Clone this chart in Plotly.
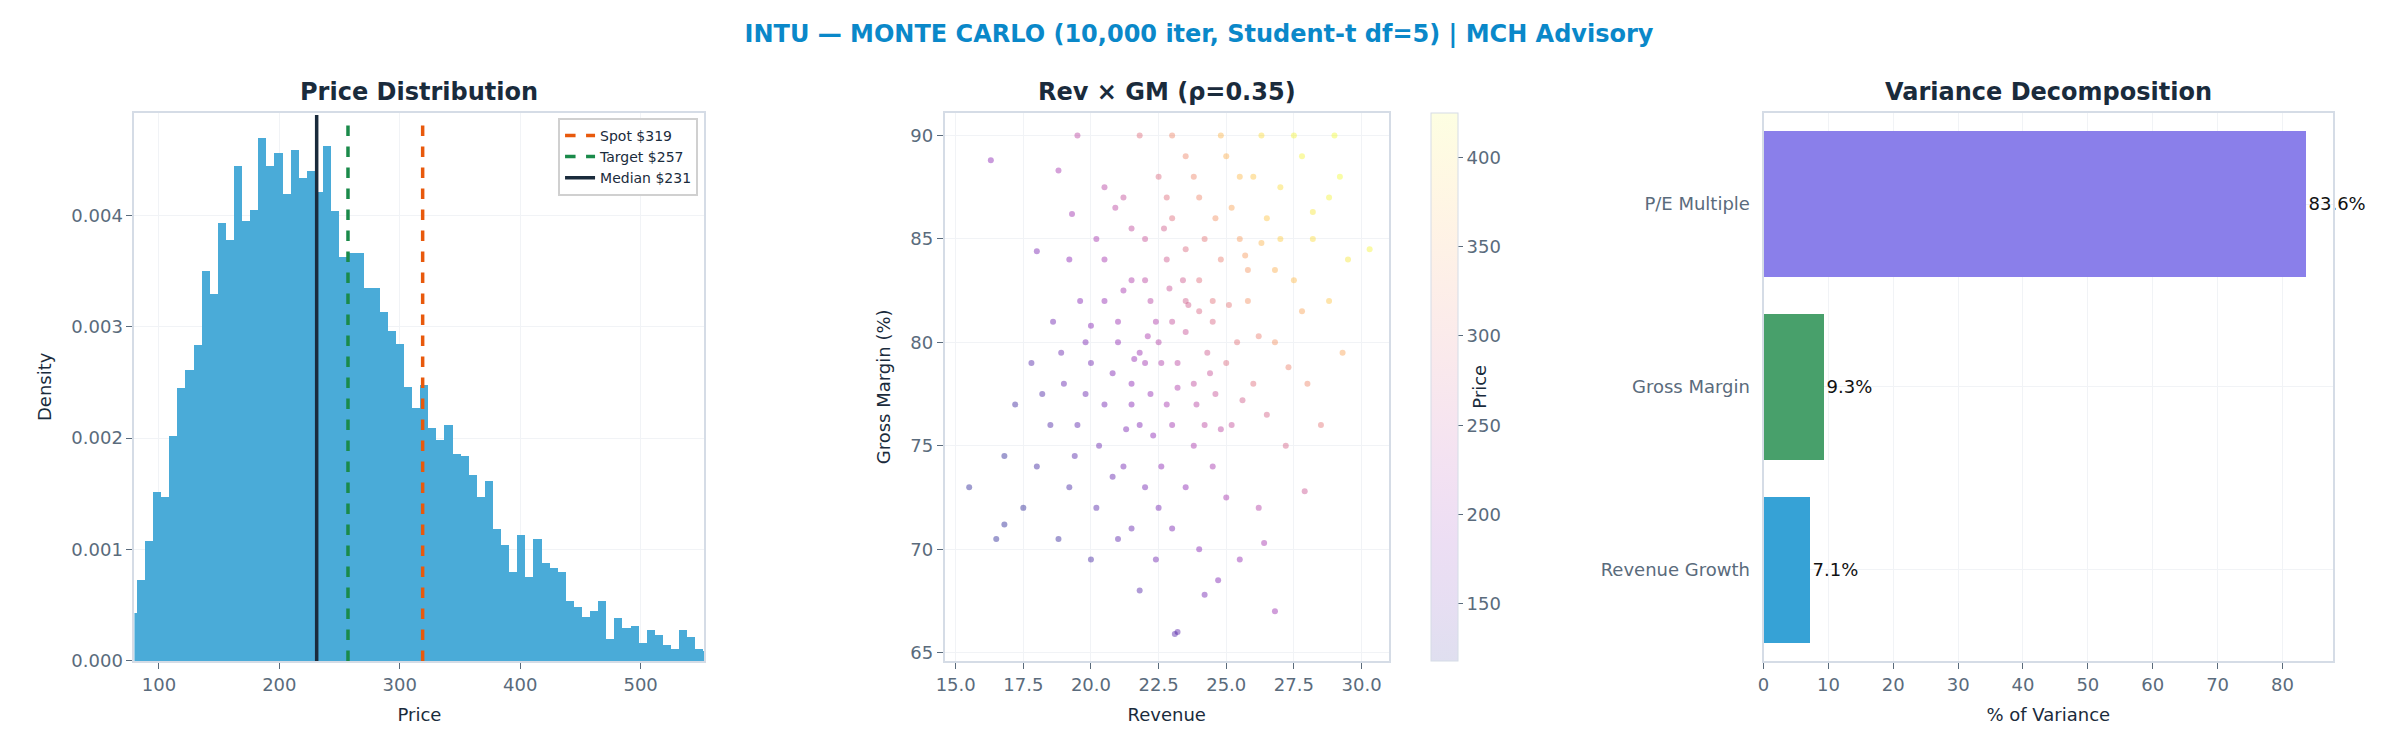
import plotly.graph_objects as go
from plotly.subplots import make_subplots
import plotly.express as px

# histogram (density per bin)
bin_start = 75.4
bin_width = 6.72
density = [0.43, 0.73, 1.08, 1.52, 1.47, 2.02, 2.45, 2.61, 2.84, 3.50, 3.30, 3.93, 3.78, 4.44, 3.95,
           4.05, 4.70, 4.44, 4.56, 4.19, 4.59, 4.34, 4.40, 4.21, 4.62, 4.04, 3.63, 3.66, 3.66, 3.35,
           3.35, 3.13, 2.96, 2.85, 2.46, 2.27, 2.48, 2.09, 1.99, 2.12, 1.86, 1.84, 1.67, 1.47, 1.62,
           1.19, 1.04, 0.80, 1.13, 0.76, 1.10, 0.88, 0.84, 0.80, 0.54, 0.49, 0.40, 0.45, 0.54, 0.20,
           0.39, 0.30, 0.32, 0.16, 0.28, 0.24, 0.15, 0.11, 0.28, 0.22, 0.11, 0.09]
density = [d / 1000 for d in density]
bin_centers = [bin_start + bin_width * (i + 0.5) for i in range(len(density))]

spot, target, median = 319, 257, 231

# revenue / gross margin sample
pts = [(22.5,80,230),(23,81,250),(22,79,210),(21.5,78,190),(23.5,82,270),(24,83,290),(22.8,77,215),(21,80,195),(24.5,81,280),(23.2,79,240),
(20.5,77,170),(21.8,76,180),(22.2,82,235),(24.8,84,310),(25.5,85,340),(23.8,78,245),(20,79,165),(19.5,76,150),(22.6,74,190),(21.2,74,170),
(24.2,76,240),(25,79,285),(25.8,82,330),(26.5,86,380),(27,85,385),(26,88,380),(24,87,320),(23,86,290),(22,85,255),(21.5,83,225),
(20.5,82,200),(19.8,80,175),(19,78,155),(18.5,76,140),(18,74,130),(19.2,73,135),(20.2,72,145),(21.5,71,155),(22.5,72,170),(23.5,73,190),
(24.5,74,215),(25.2,76,250),(26,78,290),(26.8,80,330),(27.5,83,370),(28.2,85,400),(28.8,87,420),(27.8,89,420),(25,89,360),(23.5,89,320),
(22.5,88,285),(21.2,87,250),(20.2,85,215),(19.2,84,190),(18.6,81,165),(17.8,79,145),(17.2,77,130),(16.8,74.5,120),(17.5,72,120),(18.8,70.5,125),
(20,69.5,135),(21.8,68,145),(23.2,66,150),(24.2,67.8,170),(25.5,69.5,200),(26.2,72,230),(27.2,75,275),(28,78,320),(28.8,82,380),(29.5,84,410),
(30.3,84.5,420),(29.2,88,425),(26.3,90,400),(24.8,90,365),(23,90,320),(21.8,90,290),(19.5,90,240),(16.3,88.8,190),(18.8,88.3,215),(15.5,73,120),
(16.5,70.5,115),(16.8,71.2,118),(22.8,84,265),(23.5,84.5,285),(24.2,85,300),(22,83,240),(21,81,205),(20.8,78.5,180),(22.2,77.5,200),(23,76,210),
(23.8,75,220),(24.6,77.5,255),(25.4,80,295),(25.8,83.5,335),(24.5,82,295),(23.5,80.5,255),(22.6,79,225),(21.5,77,185),(20.3,75,160),(19.4,74.5,145),
(20.8,73.5,155),(22,73,170),(23,71,175),(24,70,185),(22.4,69.5,165),(21,70.5,150),(25,72.5,215),(26.5,76.5,275),(27.3,78.8,315),(27.8,81.5,350),
(26.8,83.5,360),(25.2,86.5,350),(23.8,88,320),(22.8,87,290),(21.5,85.5,245),(20.5,84,215),(19.6,82,185),(18.9,79.5,160),(18.2,77.5,140),(19.8,77.5,160),
(21.8,79.5,205),(22.4,81,225),(23.4,83,265),(24.3,79.5,265),(23.2,77.8,225),(22.3,75.5,190),(21.3,75.8,175),(24.8,75.8,240),(25.6,77.2,270),(26.2,80.3,310),
(26.3,84.8,365),(27,87.5,400),(28.2,86.3,410),(29,90,425),(27.5,90,420),(25.5,88,370),(24.6,86,330),(21.2,82.5,215),(20,80.8,185),(24,81.5,280),
(23.6,81.8,270),(22.9,82.6,255),(22.1,80.3,220),(21.6,79.2,200),(23.9,77,235),(24.4,78.5,255),(25.1,81.8,300),(25.7,84.2,340),(22.7,85.5,270),(20.9,86.5,240),
(19.3,86.2,210),(18,84.4,175),(26.4,70.3,215),(27.9,72.8,260),(28.5,76,300),(29.3,79.5,350),(24.7,68.5,180),(23.1,65.9,145),(26.8,67,205),(20.5,87.5,235)]
revenue = [p[0] for p in pts]
gross_margin = [p[1] for p in pts]
price = [p[2] for p in pts]

factors = ["Revenue Growth", "Gross Margin", "P/E Multiple"]
variance_pct = [7.1, 9.3, 83.6]
factor_colors = ["#36a2d6", "#48a06b", "#8a7fea"]

# faded plasma only for the colorbar, like the washed-out one in the reference
def fade(c, a):
    c = c.lstrip("#")
    return "rgba(%d,%d,%d,%s)" % (int(c[0:2], 16), int(c[2:4], 16), int(c[4:6], 16), a)
plasma = px.colors.sequential.Plasma
faded = [[i / (len(plasma) - 1), fade(c, 0.13)] for i, c in enumerate(plasma)]

fig = make_subplots(rows=1, cols=3)

fig.add_trace(go.Bar(x=bin_centers, y=density, width=bin_width, marker_color="#4aabd8",
                     marker_line_width=0, showlegend=False), row=1, col=1)
for name, val, col, dash in [("Spot $%d" % spot, spot, "#e8590c", "dash"),
                             ("Target $%d" % target, target, "#1a8a4a", "dash"),
                             ("Median $%d" % median, median, "#1a2b3c", "solid")]:
    fig.add_trace(go.Scatter(x=[val, val], y=[0, 0.0049], mode="lines", name=name,
                             line=dict(color=col, width=3.5, dash=dash)), row=1, col=1)

fig.add_trace(go.Scatter(x=revenue, y=gross_margin, mode="markers", showlegend=False,
                         marker=dict(size=6, color=price, colorscale="Plasma", cmin=118, cmax=425,
                                     opacity=0.4, line=dict(width=0))),
              row=1, col=2)
# colorbar carrier
fig.add_trace(go.Scatter(x=[None], y=[None], mode="markers", showlegend=False, hoverinfo="skip",
                         marker=dict(color=[118, 425], colorscale=faded, cmin=118, cmax=425,
                                     colorbar=dict(title=dict(text="Price", side="right",
                                                              font=dict(size=18, color="#1a2b3c")),
                                                   x=0.596, xanchor="left", xpad=0, ypad=0,
                                                   y=0.4825, yanchor="middle",
                                                   len=0.749, thickness=27, outlinecolor="#d5dce6",
                                                   outlinewidth=1, tickvals=[150, 200, 250, 300, 350, 400],
                                                   ticks="outside", ticklen=5, tickcolor="#5a6b7c",
                                                   tickfont=dict(size=18, color="#5a6b7c")))),
              row=1, col=2)

fig.add_trace(go.Bar(y=factors, x=variance_pct, orientation="h", marker_color=factor_colors,
                     marker_line_width=0, width=0.8, showlegend=False,
                     text=["%.1f%%" % v for v in variance_pct], textposition="outside",
                     textfont=dict(size=18, color="#111111"), cliponaxis=False), row=1, col=3)

axis_common = dict(showline=True, linecolor="#d5dce6", linewidth=2, mirror=True,
                   gridcolor="#f1f3f6", ticks="outside", ticklen=6, tickcolor="#5a6b7c",
                   tickfont=dict(size=18, color="#5a6b7c"), zeroline=False,
                   title_font=dict(size=18, color="#1a2b3c"))
fig.update_xaxes(**axis_common)
fig.update_yaxes(**axis_common)

yd = [0.108, 0.857]
fig.update_layout(
    xaxis=dict(domain=[0.0495, 0.2897], range=[79.7, 553], title_text="Price",
               tickvals=[100, 200, 300, 400, 500]),
    yaxis=dict(domain=yd, range=[0, 0.00492], title_text="Density", tickformat=".3f",
               dtick=0.001),
    xaxis2=dict(domain=[0.391, 0.578], range=[14.6, 31.0], title_text="Revenue",
                tickformat=".1f", dtick=2.5),
    yaxis2=dict(domain=yd, range=[64.6, 91.1], title_text="Gross Margin (%)", dtick=5),
    xaxis3=dict(domain=[0.736, 0.976], range=[0, 87.8], title_text="% of Variance", dtick=10),
    yaxis3=dict(domain=yd, range=[-0.5, 2.5], ticks="", ticklabelstandoff=8),
    width=2382, height=742, margin=dict(l=0, r=0, t=0, b=0),
    paper_bgcolor="white", plot_bgcolor="white",
    font=dict(family="DejaVu Sans", color="#1a2b3c"),
    bargap=0,
    title=dict(text="<b>INTU — MONTE CARLO (10,000 iter, Student-t df=5) | MCH Advisory</b>",
               x=0.5, xanchor="center", y=0.965, yanchor="middle",
               font=dict(size=24, color="#0a88c9")),
    legend=dict(x=0.287, xanchor="right", y=0.85, yanchor="top", bgcolor="white",
                bordercolor="#d0d0d0", borderwidth=2, font=dict(size=14, color="#1a2b3c"),
                tracegroupgap=0, itemwidth=30),
    showlegend=True,
)

for txt, xc in [("Price Distribution", (0.0495 + 0.2897) / 2), ("Rev × GM (ρ=0.35)", (0.391 + 0.578) / 2),
                ("Variance Decomposition", (0.736 + 0.976) / 2)]:
    fig.add_annotation(text="<b>%s</b>" % txt, x=xc, y=0.885, xref="paper", yref="paper",
                       xanchor="center", showarrow=False, font=dict(size=24, color="#1a2b3c"),
                       yanchor="middle")

fig.write_html("out.html")
